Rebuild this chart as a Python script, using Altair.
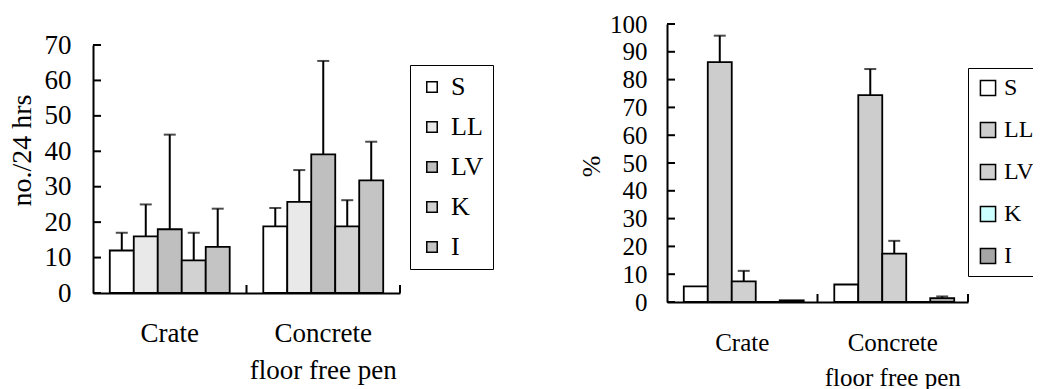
import altair as alt
import pandas as pd

categories = ["Crate", "Concrete\nfloor free pen"]
series = ["S", "LL", "LV", "K", "I"]

# Left panel: no./24 hrs
left_crate_mean = [12.0, 16.0, 18.0, 9.2, 13.0]
left_crate_err = [5.0, 9.0, 26.7, 7.8, 10.8]
left_pen_mean = [18.8, 25.7, 39.1, 18.8, 31.8]
left_pen_err = [5.2, 9.0, 26.4, 7.4, 10.9]

# Right panel: %
right_crate_mean = [5.6, 86.3, 7.4, 0.0, 0.6]
right_crate_err = [0.0, 9.5, 3.8, 0.0, 0.0]
right_pen_mean = [6.3, 74.4, 17.4, 0.0, 1.4]
right_pen_err = [0.0, 9.4, 4.6, 0.0, 0.6]

left_ticks = [0, 10, 20, 30, 40, 50, 60, 70]
right_ticks = [0, 10, 20, 30, 40, 50, 60, 70, 80, 90, 100]

left_colors = ["#ffffff", "#e9e9e9", "#bfbfbf", "#d2d2d2", "#c4c4c4"]
right_colors = ["#ffffff", "#cdcdcd", "#d0d0d0", "#ccffff", "#a6a6a6"]

FONT = "Liberation Serif"


def make_df(cm, ce, pm, pe):
    rows = []
    for cat, means, errs in [(categories[0], cm, ce), (categories[1], pm, pe)]:
        for s, m, e in zip(series, means, errs):
            rows.append({"category": cat, "series": s, "value": m, "err": e, "upper": m + e})
    return pd.DataFrame(rows)


def panel(df, ticks, colors, width, height, top, ytitle, fs, leg, ax, pad_outer):
    ymax = ticks[-1]
    xscale = alt.Scale(paddingInner=0, paddingOuter=0)
    xaxis = alt.Axis(
        title=None, ticks=False, labelAngle=0, domain=True,
        labelFont=FONT, labelFontSize=fs, labelColor="black",
        labelPadding=ax["xlabpad"], labelLineHeight=ax["lh"],
        labelExpr="split(datum.label, '\\n')", labelBaseline="top",
        labelOverlap=False,
        domainColor="black", domainWidth=2,
    )
    yaxis = alt.Axis(
        values=ticks, ticks=False, grid=False, title=ytitle,
        labelFont=FONT, labelFontSize=fs, labelColor="black",
        labelPadding=ax["labpad"], labelOverlap=False,
        titleFont=FONT, titleFontSize=ax["tfs"], titleFontWeight="normal",
        titleColor="black", titleX=ax["tx"], titleY=ax["ty"],
        domainColor="black", domainWidth=2,
    )
    xenc = alt.X("category:N", sort=categories, scale=xscale, axis=xaxis)
    xoff = alt.XOffset("series:N", sort=series,
                       scale=alt.Scale(paddingInner=0, paddingOuter=pad_outer))
    yscale = alt.Scale(domain=[0, ymax], nice=False, range=[height, top])
    bars = alt.Chart(df).mark_bar(stroke="black", strokeWidth=1.8).encode(
        x=xenc,
        xOffset=xoff,
        y=alt.Y("value:Q", scale=yscale, axis=yaxis),
        color=alt.Color(
            "series:N", sort=series,
            scale=alt.Scale(domain=series, range=colors),
            legend=alt.Legend(
                title=None, orient="none", legendX=leg["x"], legendY=leg["y"],
                symbolType="square", symbolSize=leg["ss"], symbolStrokeColor="black",
                symbolStrokeWidth=1.5, labelFont=FONT, labelFontSize=leg["fs"],
                labelColor="black", labelOffset=leg["lo"], rowPadding=leg["rp"],
                padding=leg["pad"], strokeColor="black", fillColor="white",
                labelLimit=200,
            ),
        ),
    )
    edf = df[df["err"] > 0]
    stems = alt.Chart(edf).mark_rule(color="black", strokeWidth=2).encode(
        x=xenc, xOffset=xoff, y=alt.Y("value:Q", scale=yscale, axis=yaxis), y2="upper:Q"
    )
    caps = alt.Chart(edf).mark_tick(color="black", thickness=2, size=12, orient="horizontal").encode(
        x=xenc, xOffset=xoff, y=alt.Y("upper:Q", scale=yscale, axis=yaxis)
    )
    tdf = pd.DataFrame({"v": ticks})
    yt = alt.Chart(tdf).mark_rule(color="black", strokeWidth=2).encode(
        y=alt.Y("v:Q", scale=yscale, axis=yaxis), x=alt.value(0), x2=alt.value(8)
    )
    cdf = pd.DataFrame({"category": categories})
    xt = alt.Chart(cdf).mark_rule(color="black", strokeWidth=2).encode(
        x=alt.X("category:N", sort=categories, scale=xscale, axis=xaxis, bandPosition=1),
        y=alt.value(height), y2=alt.value(height - 8),
    )
    return alt.layer(bars, stems, caps, yt, xt).properties(width=width, height=height)


left_df = make_df(left_crate_mean, left_crate_err, left_pen_mean, left_pen_err)
right_df = make_df(right_crate_mean, right_crate_err, right_pen_mean, right_pen_err)

left = panel(
    left_df, left_ticks, left_colors, 307, 269, 21, "no./24 hrs", 27,
    {"x": 317, "y": 41, "ss": 110, "fs": 26, "lo": 6, "rp": 14, "pad": 9},
    {"labpad": 22, "xlabpad": 27, "lh": 37, "tfs": 28, "tx": -57, "ty": 126},
    0.7,
)
right = panel(
    right_df, right_ticks, right_colors, 301, 278, 0, "%", 25,
    {"x": 301, "y": 44, "ss": 230, "fs": 24, "lo": 4, "rp": 18, "pad": 8},
    {"labpad": 20, "xlabpad": 28, "lh": 35, "tfs": 26, "tx": -63, "ty": 142},
    0.73,
)

chart = alt.hconcat(left, right, spacing=84).resolve_scale(
    color="independent"
).resolve_legend(color="independent").properties(
    padding={"left": 0, "top": 4, "right": -10, "bottom": 0}
).configure_view(stroke=None).configure_axis(labelOverlap=False)

chart.save("out.html", embed_options={"renderer": "svg", "actions": False})
